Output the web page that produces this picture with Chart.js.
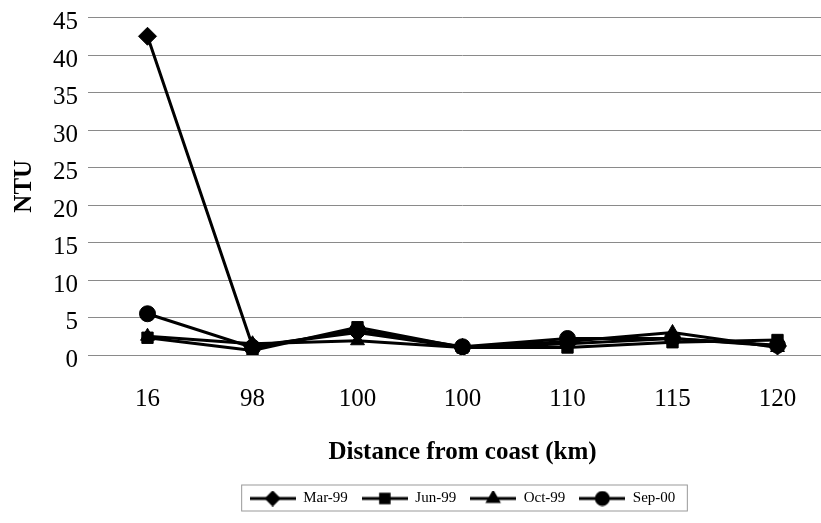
<!DOCTYPE html>
<html>
<head>
  <title>NTU vs distance from coast</title>
  <script src="https://cdn.jsdelivr.net/npm/chart.js"></script>
  <style>
    body { margin: 0; background: white; overflow: hidden; }
    #wrap { width: 840px; height: 523px; }
  </style>
</head>
<body>
  <div id="wrap"><canvas id="ntuChart" width="840" height="523"></canvas></div>

  <script>
    // data
    const distances = ['16', '98', '100', '100', '110', '115', '120'];
    const yTicks = [0, 5, 10, 15, 20, 25, 30, 35, 40, 45];
    const seriesNames = ['Mar-99', 'Jun-99', 'Oct-99', 'Sep-00'];
    const mar99 = [42.5, 1.2, 3.0, 1.0, 1.5, 2.2, 1.2];
    const jun99 = [2.3, 0.6, 3.7, 1.0, 1.0, 1.7, 2.0];
    const oct99 = [2.5, 1.5, 1.9, 1.0, 1.8, 3.0, 1.0];
    const sep00 = [5.5, 1.0, 3.3, 1.1, 2.2, 2.2, 1.3];

    const serif = "'Liberation Serif', 'Times New Roman', serif";
    const markers = ['rectRot', 'rect', 'triangle', 'circle'];

    // small line+marker picture for each legend entry
    function legendIcon(style) {
      const c = document.createElement('canvas');
      c.width = 46; c.height = 16;
      const g = c.getContext('2d');
      g.strokeStyle = '#000';
      g.fillStyle = '#000';
      g.lineWidth = 3;
      g.beginPath(); g.moveTo(0, 8); g.lineTo(46, 8); g.stroke();
      Chart.helpers.drawPoint(g, { pointStyle: style, radius: 6, borderWidth: 1 }, 23, 8);
      g.fill();
      return c;
    }

    // box around the legend
    const legendBox = {
      id: 'legendBox',
      afterDraw(chart) {
        const boxes = chart.legend.legendHitBoxes;
        if (!boxes || !boxes.length) return;
        const left = boxes[0].left - 8;
        const last = boxes[boxes.length - 1];
        const right = last.left + last.width + 12;
        const top = boxes[0].top - 6;
        const bottom = boxes[0].top + boxes[0].height + 5;
        const ctx = chart.ctx;
        ctx.save();
        ctx.strokeStyle = '#999';
        ctx.lineWidth = 1;
        ctx.strokeRect(left, top, right - left, bottom - top);
        ctx.restore();
      }
    };

    const allData = [mar99, jun99, oct99, sep00];
    const datasets = seriesNames.map((name, i) => ({
      label: name,
      data: allData[i],
      borderColor: '#000',
      backgroundColor: '#000',
      borderWidth: 3,
      pointStyle: markers[i],
      pointRadius: markers[i] === 'rectRot' ? 9 : 8,
      pointBorderWidth: 1,
      tension: 0
    }));

    new Chart(document.getElementById('ntuChart').getContext('2d'), {
      type: 'line',
      data: { labels: distances, datasets: datasets },
      plugins: [legendBox],
      options: {
        responsive: false,
        animation: false,
        layout: { padding: { left: 10, right: 10, top: 0, bottom: 7 } },
        plugins: {
          tooltip: { enabled: false },
          legend: {
            position: 'bottom',
            fullSize: false,
            labels: {
              usePointStyle: true,
              pointStyleWidth: 46,
              padding: 14,
              color: '#000',
              font: { family: serif, size: 15 },
              generateLabels(chart) {
                return chart.data.datasets.map((ds, i) => ({
                  text: ds.label,
                  pointStyle: legendIcon(markers[i]),
                  fillStyle: '#000',
                  strokeStyle: '#000',
                  lineWidth: 0,
                  datasetIndex: i
                }));
              }
            }
          }
        },
        scales: {
          x: {
            offset: true,
            grid: { display: false },
            border: { display: false },
            ticks: { color: '#000', padding: 21, font: { family: serif, size: 25 } },
            title: {
              display: true,
              text: 'Distance from coast (km)',
              color: '#000',
              padding: { top: 3, bottom: 9 },
              font: { family: serif, size: 25, weight: 'bold' }
            }
          },
          y: {
            min: 0,
            max: 45,
            afterBuildTicks(axis) { axis.ticks = yTicks.map(v => ({ value: v })); },
            grid: { color: '#8a8a8a', lineWidth: 1, tickLength: 7, drawTicks: true },
            border: { display: false },
            ticks: { color: '#000', padding: 10, labelOffset: 5, font: { family: serif, size: 25, lineHeight: 0.6 } },
            title: {
              display: true,
              text: 'NTU',
              color: '#000',
              padding: { top: 0, bottom: 3 },
              font: { family: serif, size: 25, weight: 'bold' }
            }
          }
        }
      }
    });
  </script>
</body>
</html>
